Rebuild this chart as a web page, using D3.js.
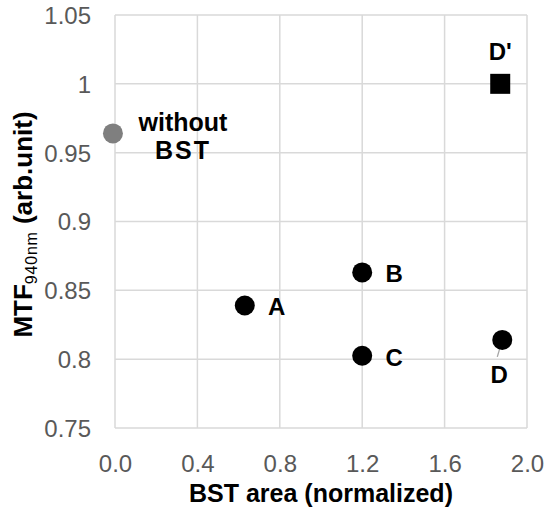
<!DOCTYPE html>
<html>
<head>
<meta charset="utf-8">
<script src="https://cdn.jsdelivr.net/npm/d3@7/dist/d3.min.js"></script>
<style>
  html, body { margin: 0; padding: 0; background: #fff; }
  svg { display: block; font-family: "Liberation Sans", Arial, sans-serif; }
</style>
</head>
<body>
<svg id="chart" width="544" height="515"></svg>
<script>
// ---- data ----
const pointNames = ["without BST", "A", "B", "C", "D", "D'"];
const bstArea    = [-0.01, 0.63, 1.2, 1.2, 1.88, 1.87];
const mtfValues  = [0.964, 0.839, 0.863, 0.8025, 0.814, 1.0];
const markerKind = ["grayCircle", "circle", "circle", "circle", "circle", "square"];
const xTickValues = [0.0, 0.4, 0.8, 1.2, 1.6, 2.0];
const xTickLabels = ["0.0", "0.4", "0.8", "1.2", "1.6", "2.0"];
const yTickValues = [0.75, 0.8, 0.85, 0.9, 0.95, 1.0, 1.05];
const yTickLabels = ["0.75", "0.8", "0.85", "0.9", "0.95", "1", "1.05"];

const svg = d3.select("#chart");
const L = 115, R = 527, T = 15, B = 428;
const x = d3.scaleLinear().domain([0, 2]).range([L, R]);
const y = d3.scaleLinear().domain([0.75, 1.05]).range([B, T]);

const grid = "#d9d9d9";
// vertical gridlines
svg.append("g").selectAll("line").data(xTickValues).join("line")
  .attr("x1", d => x(d)).attr("x2", d => x(d))
  .attr("y1", T).attr("y2", B)
  .attr("stroke", grid).attr("stroke-width", 1.5);
// horizontal gridlines
svg.append("g").selectAll("line").data(yTickValues).join("line")
  .attr("y1", d => y(d)).attr("y2", d => y(d))
  .attr("x1", L).attr("x2", R)
  .attr("stroke", grid).attr("stroke-width", 1.5);

// x axis tick labels
const xAxis = d3.axisBottom(x).tickValues(xTickValues)
  .tickFormat((d, i) => xTickLabels[i]).tickSize(0).tickPadding(0);
const gx = svg.append("g").attr("transform", `translate(0,${B})`).call(xAxis);
gx.select(".domain").remove();
gx.selectAll("text").attr("font-size", 24).attr("fill", "#595959")
  .attr("font-family", "Liberation Sans, Arial, sans-serif")
  .attr("dy", null).attr("y", 44);

// y axis tick labels
const yAxis = d3.axisLeft(y).tickValues(yTickValues)
  .tickFormat((d, i) => yTickLabels[yTickValues.indexOf(d)]).tickSize(0).tickPadding(0);
const gy = svg.append("g").attr("transform", `translate(${L},0)`).call(yAxis);
gy.select(".domain").remove();
gy.selectAll("text").attr("font-size", 24).attr("fill", "#595959")
  .attr("font-family", "Liberation Sans, Arial, sans-serif")
  .attr("x", -24).attr("dy", "0.35em");

// axis titles
svg.append("text").attr("x", (L + R) / 2).attr("y", 502)
  .attr("text-anchor", "middle").attr("font-size", 25).attr("font-weight", "bold")
  .attr("fill", "#000").text("BST area (normalized)");

const yt = svg.append("text")
  .attr("transform", `translate(32,${(T + B) / 2 + 3}) rotate(-90)`)
  .attr("text-anchor", "middle").attr("font-size", 26).attr("font-weight", "bold")
  .attr("fill", "#000");
yt.append("tspan").text("MTF");
yt.append("tspan").attr("font-size", 16).attr("font-weight", "normal").attr("dy", 5)
  .attr("letter-spacing", 0.8).text("940nm");
yt.append("tspan").attr("dy", -5).text(" (arb.unit)");

// leader line for D
const iD = pointNames.indexOf("D");
svg.append("line")
  .attr("x1", x(bstArea[iD]) - 5).attr("y1", y(mtfValues[iD]) + 17)
  .attr("x2", x(bstArea[iD])).attr("y2", y(mtfValues[iD]))
  .attr("stroke", "#a6a6a6").attr("stroke-width", 1.3);

// markers
const pts = pointNames.map((n, i) => ({ n, xv: bstArea[i], yv: mtfValues[i], k: markerKind[i] }));
svg.append("g").selectAll("circle").data(pts.filter(p => p.k !== "square")).join("circle")
  .attr("cx", d => x(d.xv)).attr("cy", d => y(d.yv)).attr("r", 10)
  .attr("fill", d => d.k === "grayCircle" ? "#7f7f7f" : "#000");
svg.append("g").selectAll("rect").data(pts.filter(p => p.k === "square")).join("rect")
  .attr("x", d => x(d.xv) - 10).attr("y", d => y(d.yv) - 10)
  .attr("width", 20).attr("height", 20).attr("fill", "#000");

// data labels
const labelOffsets = {
  "A": [32, 10], "B": [32, 10], "C": [32, 10], "D": [-3, 43], "D'": [0, -24]
};
Object.keys(labelOffsets).forEach(name => {
  const i = pointNames.indexOf(name);
  const [dx, dy] = labelOffsets[name];
  svg.append("text")
    .attr("x", x(bstArea[i]) + dx).attr("y", y(mtfValues[i]) + dy)
    .attr("text-anchor", "middle").attr("font-size", 24).attr("font-weight", "bold")
    .attr("fill", "#000").text(name);
});
const i0 = pointNames.indexOf("without BST");
const wl = svg.append("text").attr("text-anchor", "middle")
  .attr("font-size", 25).attr("font-weight", "bold").attr("fill", "#000");
wl.append("tspan").attr("x", x(bstArea[i0]) + 70).attr("y", y(mtfValues[i0]) - 2).text("without");
wl.append("tspan").attr("x", x(bstArea[i0]) + 70).attr("y", y(mtfValues[i0]) + 26)
  .attr("letter-spacing", 2).text("BST");
</script>
</body>
</html>
